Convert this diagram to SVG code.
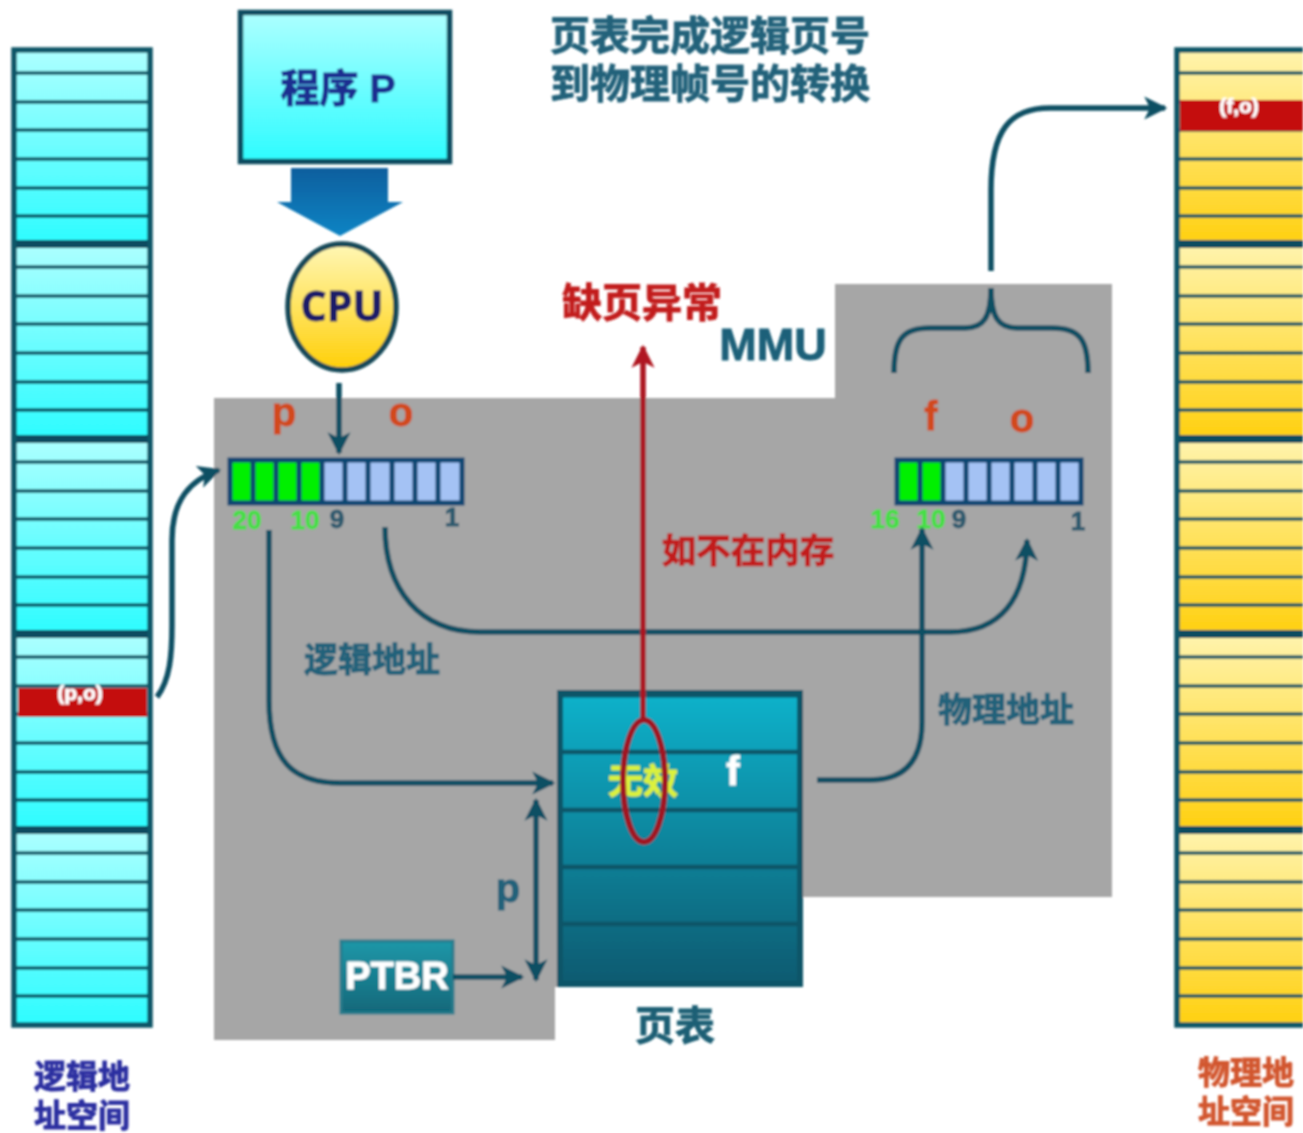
<svg xmlns="http://www.w3.org/2000/svg" width="1303" height="1133" viewBox="0 0 1303 1133">
<style>
text{font-family:"Liberation Sans","Noto Sans CJK SC",sans-serif;font-weight:700;text-anchor:middle;fill:currentColor;stroke:currentColor;stroke-width:.9}
.cjk{font-family:"Noto Sans CJK SC",sans-serif}
.t{color:#22627a}
.red{color:#c21e1e}
.org{color:#d2491c}
.grn{color:#44e044;font-size:26px}
.num{color:#2d5a6e;font-size:26px}
.wh{color:#fff}
.thin{stroke:#0a5566;stroke-width:3.400;fill:none}
.thick{stroke:#0a4c60;stroke-width:8;fill:none}
.frame{fill:none;stroke:#0a5668;stroke-width:5.500}
.reg{stroke:#0f4672;stroke-width:5;fill:none}
.con{fill:none;stroke:#114f64;stroke-width:5.500}
</style>
<defs>
<linearGradient id="cy" x1="0" y1="0" x2="0" y2="1"><stop offset="0" stop-color="#adffff"/><stop offset="1" stop-color="#2dfcff"/></linearGradient>
<linearGradient id="yl" x1="0" y1="0" x2="0" y2="1"><stop offset="0" stop-color="#fff4ae"/><stop offset="1" stop-color="#ffd010"/></linearGradient>
<linearGradient id="cpuG" x1="0" y1="0" x2="0" y2="1"><stop offset="0" stop-color="#fff7b5"/><stop offset="1" stop-color="#ffcf08"/></linearGradient>
<linearGradient id="tb" x1="0" y1="0" x2="0" y2="1"><stop offset="0" stop-color="#0db2cb"/><stop offset="1" stop-color="#0a5a70"/></linearGradient>
<linearGradient id="pt" x1="0" y1="0" x2="0" y2="1"><stop offset="0" stop-color="#1f97a8"/><stop offset="1" stop-color="#11687a"/></linearGradient>
<linearGradient id="bl" x1="0" y1="0" x2="0" y2="1"><stop offset="0" stop-color="#0b5f9e"/><stop offset="1" stop-color="#0a84c4"/></linearGradient>
<marker id="ah" viewBox="0 0 10 10" refX="9" refY="5" markerWidth="4.2" markerHeight="4.2" orient="auto-start-reverse" markerUnits="strokeWidth"><path d="M0 0L10 5L0 10L2.5 5Z" fill="#114f64"/></marker>
<marker id="ar" viewBox="0 0 10 10" refX="9" refY="5" markerWidth="4.2" markerHeight="4.2" orient="auto" markerUnits="strokeWidth"><path d="M0 0L10 5L0 10L2.5 5Z" fill="#b01820"/></marker>
<g id="ticks">
<path class="thin" d="M14 23H1303M14 52H1303M14 80H1303M14 109H1303M14 138H1303M14 166H1303"/>
</g>
<filter id="soft" filterUnits="userSpaceOnUse" x="0" y="0" width="1303" height="1133"><feGaussianBlur stdDeviation="0.9"/></filter>
</defs>
<rect width="1303" height="1133" fill="#fff"/>
<g filter="url(#soft)">
<g id="mmu-region"><path d="M214 398H835V284H1112V897H803V987H555V1040H214Z" fill="#a6a6a6"/></g>

<g id="logical-space">
<clipPath id="lc"><rect x="14" y="50" width="136" height="975"/></clipPath>
<g clip-path="url(#lc)">
<rect x="14" y="50" width="136" height="194" fill="url(#cy)"/><rect x="14" y="244" width="136" height="195" fill="url(#cy)"/><rect x="14" y="439" width="136" height="195" fill="url(#cy)"/><rect x="14" y="634" width="136" height="196" fill="url(#cy)"/><rect x="14" y="830" width="136" height="195" fill="url(#cy)"/>
<use href="#ticks" y="50"/><use href="#ticks" y="244"/><use href="#ticks" y="439"/><use href="#ticks" y="634"/><use href="#ticks" y="830"/>
</g>
<path class="thick" d="M14 244H150M14 439H150M14 634H150M14 830H150"/>
<rect class="frame" x="14" y="50" width="136" height="975"/>
<rect x="18" y="688" width="129" height="29" fill="#c40d10"/>
<text class="wh" x="80" y="700" font-size="21">(p,o)</text>
</g>

<g id="physical-space">
<clipPath id="rc"><rect x="1177" y="50" width="126" height="975"/></clipPath>
<g clip-path="url(#rc)">
<rect x="1177" y="50" width="126" height="194" fill="url(#yl)"/><rect x="1177" y="244" width="126" height="195" fill="url(#yl)"/><rect x="1177" y="439" width="126" height="195" fill="url(#yl)"/><rect x="1177" y="634" width="126" height="196" fill="url(#yl)"/><rect x="1177" y="830" width="126" height="195" fill="url(#yl)"/>
<use href="#ticks" y="50"/><use href="#ticks" y="244"/><use href="#ticks" y="439"/><use href="#ticks" y="634"/><use href="#ticks" y="830"/>
</g>
<path class="thick" d="M1177 244H1303M1177 439H1303M1177 634H1303M1177 830H1303"/>
<path class="frame" d="M1303 50H1177V1025H1303"/>
<rect x="1180" y="100" width="123" height="31" fill="#c40d10"/>
<text class="wh" x="1239" y="113" font-size="21">(f,o)</text>
</g>

<g id="program"><rect x="240.500" y="12.500" width="209" height="149" fill="url(#cy)" stroke="#0a4c60" stroke-width="5.500"/>
<text x="338" y="102" font-size="39" color="#1d2f90">程序 P</text></g>
<g id="big-arrow"><path d="M291 168H388V202H403L340 236L277 202H291Z" fill="url(#bl)"/></g>
<g id="cpu"><ellipse cx="342" cy="307" rx="54" ry="63" fill="url(#cpuG)" stroke="#134858" stroke-width="5.500"/>
<text x="342" y="321" font-size="41" color="#1c1c68" style="font-family:'Open Sans',sans-serif">CPU</text></g>

<g id="register-logical">
<rect x="230" y="460" width="92" height="43" fill="#00f000"/><rect x="322" y="460" width="140" height="43" fill="#a4c2f4"/>
<path class="reg" d="M230 460H462V503H230ZM253 460V503M276 460V503M299 460V503M322 460V503M345 460V503M368 460V503M392 460V503M415 460V503M438 460V503"/>
<text class="org" x="284" y="426" font-size="40">p</text><text class="org" x="401" y="426" font-size="40">o</text>
<text class="grn" x="247" y="529">20</text><text class="grn" x="305" y="529">10</text><text class="num" x="337" y="528">9</text><text class="num" x="452" y="526">1</text>
</g>
<g id="register-physical">
<rect x="897" y="460" width="46" height="43" fill="#00f000"/><rect x="943" y="460" width="138" height="43" fill="#a4c2f4"/>
<path class="reg" d="M897 460H1081V503H897ZM920 460V503M943 460V503M966 460V503M989 460V503M1012 460V503M1035 460V503M1058 460V503"/>
<text class="org" x="931" y="430" font-size="40">f</text><text class="org" x="1022" y="432" font-size="40">o</text>
<text class="grn" x="885" y="528">16</text><text class="grn" x="931" y="528">10</text><text class="num" x="959" y="528">9</text><text class="num" x="1078" y="530">1</text>
</g>

<g id="page-table"><rect x="560" y="693" width="240" height="291" fill="url(#tb)" stroke="#0c5468" stroke-width="6"/>
<path d="M560 696H800" stroke="#0c5468" stroke-width="3" fill="none"/>
<path d="M560 752H800M560 810H800M560 867H800M560 924H800" stroke="#0c5468" stroke-width="4.500" fill="none"/>
<text x="643" y="794" font-size="35" color="#dcf23c" class="cjk">无效</text>
<text class="wh" x="733" y="785" font-size="40">f</text></g>
<g id="ptbr"><rect x="341" y="941" width="112" height="72" fill="url(#pt)" stroke="#2a7c8c" stroke-width="3"/>
<text class="wh" x="397" y="989" font-size="38">PTBR</text></g>

<g id="connectors">
<path class="con" d="M339 383V453" marker-end="url(#ah)"/>
<path class="con" d="M157 697C170 680 172 655 172 625V540C172 500 190 480 219 470" marker-end="url(#ah)"/>
<path class="con" d="M269 530V700C269 760 292 783 340 783H553" marker-end="url(#ah)"/>
<path class="con" d="M385 527C385 590 420 632 480 632H950C1000 632 1026 600 1027 540" marker-end="url(#ah)"/>
<path class="con" d="M817 780H870C905 780 922 760 922 722V529" marker-end="url(#ah)"/>
<path class="con" d="M536 800V980" marker-start="url(#ah)" marker-end="url(#ah)"/>
<path class="con" d="M453 977H522" marker-end="url(#ah)"/>
<path class="con" d="M894 373C894 340 902 328 930 328H965C983 328 991 318 991 288C991 318 999 328 1017 328H1052C1080 328 1088 340 1088 373"/>
<path class="con" d="M991 271V190C991 130 1010 108 1050 108H1165" marker-end="url(#ah)"/>
<path d="M643 720V347" fill="none" stroke="#ac1620" stroke-width="5.500" marker-end="url(#ar)"/>
<ellipse cx="644" cy="781" rx="21" ry="61" fill="none" stroke="#a01222" stroke-width="6"/>
</g>

<g id="labels">
<text class="t" x="710" y="50" font-size="40">页表完成逻辑页号</text>
<text class="t" x="710" y="98" font-size="40">到物理帧号的转换</text>
<text class="red" x="642" y="317" font-size="40">缺页异常</text>
<text x="773" y="360" font-size="45" color="#1b6079">MMU</text>
<text class="red" x="748" y="563" font-size="34.500">如不在内存</text>
<text class="t" x="372" y="672" font-size="34">逻辑地址</text>
<text class="t" x="1006" y="722" font-size="34">物理地址</text>
<text x="675" y="1040" font-size="40" color="#1d5f74">页表</text>
<text x="508" y="902" font-size="40" color="#22627a">p</text>
<text x="82" y="1088" font-size="32" color="#2b2fa0">逻辑地</text>
<text x="82" y="1127" font-size="32" color="#2b2fa0">址空间</text>
<text x="1246" y="1084" font-size="32" color="#d2562f">物理地</text>
<text x="1246" y="1123" font-size="32" color="#d2562f">址空间</text>
</g>
</g>
</svg>
